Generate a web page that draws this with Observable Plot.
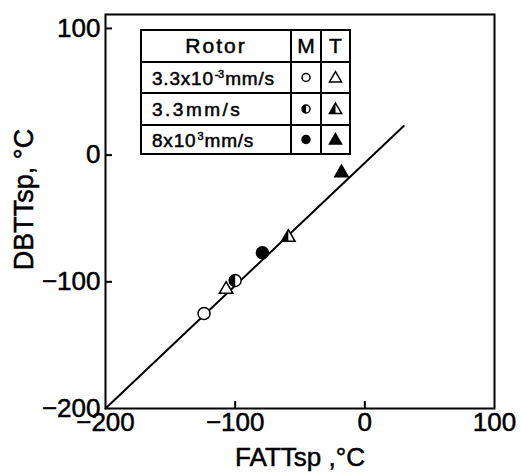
<!DOCTYPE html>
<html>
<head>
<meta charset="utf-8">
<script src="https://cdn.jsdelivr.net/npm/d3@7"></script>
<script src="https://cdn.jsdelivr.net/npm/@observablehq/plot@0.6"></script>
<style>
  html, body { margin: 0; padding: 0; background: #fff; }
  #chart { position: relative; width: 521px; height: 475px; }
  svg { font-family: "Liberation Sans", Arial, sans-serif; }
  #chart text { stroke: #000; stroke-width: 0.5px; }
</style>
</head>
<body>
<div id="chart"></div>
<script>
// ---- data ----
const rotorLabels = ["3.3x10", "3.3mm/s", "8x10"];       // legend row labels (base)
const rotorSup = ["-3", "", "3"];                          // superscripts
const rotorTail = ["mm/s", "", "mm/s"];
const symbolKind = ["open", "half", "filled"];
const fattM = [-124, -100, -79];
const dbttM = [-125, -99, -77];
const fattT = [-107, -59, -18];
const dbttT = [-106, -65, -14];
const lineX = [-200, 30];
const lineY = [-200, 23];
const xTicks = [-200, -100, 0, 100];
const yTicks = [-200, -100, 0, 100];
const xInnerTicks = [-100, 0];
const yInnerTicks = [-100, 0, 100];

// ---- custom symbols ----
const halfDisk = {
  draw(ctx, size) {
    const r = Math.sqrt(size / Math.PI);
    ctx.moveTo(0, -r);
    ctx.arc(0, 0, r, -Math.PI / 2, Math.PI / 2, true);
    ctx.closePath();
  }
};
const sqrt3 = Math.sqrt(3);
const halfTri = {
  draw(ctx, size) {
    const y = -Math.sqrt(size / (sqrt3 * 3));
    ctx.moveTo(0, y * 2);
    ctx.lineTo(0, -y);
    ctx.lineTo(sqrt3 * y, -y);
    ctx.closePath();
  }
};

const mData = fattM.map((x, i) => ({x, y: dbttM[i], kind: symbolKind[i]}));
const tData = fattT.map((x, i) => ({x, y: dbttT[i], kind: symbolKind[i]}));
const lineData = lineX.map((x, i) => ({x, y: lineY[i]}));

const W0 = 521, H0 = 475, mL = 105, mR = 27, mT = 14, mB = 67;
const frameW = W0 - mL - mR, frameH = H0 - mT - mB;

const plot = Plot.plot({
  width: W0,
  height: H0,
  marginLeft: mL,
  marginRight: mR,
  marginTop: mT,
  marginBottom: mB,
  style: {fontFamily: "Liberation Sans, Arial, sans-serif", color: "#000", background: "#fff"},
  x: {domain: [-200, 100]},
  y: {domain: [-200, 111]},
  marks: [
    Plot.frame({stroke: "#000", strokeWidth: 2}),
    Plot.axisX(xTicks, {tickSize: 0, tickPadding: 4, fontSize: 26, label: null}),
    Plot.axisY(yTicks, {tickSize: 0, tickPadding: 5, fontSize: 26, label: null}),
    Plot.ruleX(xInnerTicks, {stroke: "#000", strokeWidth: 2, insetTop: frameH - 7}),
    Plot.ruleY(yInnerTicks, {stroke: "#000", strokeWidth: 2, insetRight: frameW - 7}),
    Plot.line(lineData, {x: "x", y: "y", stroke: "#000", strokeWidth: 2}),
    // M (circles)
    Plot.dot(mData, {x: "x", y: "y", r: 6, symbol: "circle", fill: d => d.kind === "filled" ? "#000" : "#fff", stroke: "#000", strokeWidth: 1.5}),
    Plot.dot(mData.filter(d => d.kind === "half"), {x: "x", y: "y", r: 6, symbol: halfDisk, fill: "#000", stroke: "none"}),
    // T (triangles)
    Plot.dot(tData, {x: "x", y: "y", r: 5, symbol: "triangle", fill: d => d.kind === "filled" ? "#000" : "#fff", stroke: "#000", strokeWidth: 1.5}),
    Plot.dot(tData.filter(d => d.kind === "half"), {x: "x", y: "y", r: 5, symbol: halfTri, fill: "#000", stroke: "none"}),
    // axis titles
    Plot.text(["FATTsp ,°C"], {frameAnchor: "bottom", textAnchor: "middle", lineAnchor: "middle", dy: 49, fontSize: 26, fill: "#000"}),
    Plot.text(["DBTTsp, °C"], {frameAnchor: "left", textAnchor: "middle", lineAnchor: "middle", rotate: -90, dx: -81, dy: -12, fontSize: 27, fill: "#000"})
  ]
});
document.getElementById("chart").appendChild(plot);

// ---- legend table ----
const svg = d3.select(plot);
const tx = 141, ty = 30;
const colW = [150, 30, 29];
const rowH = [32, 31, 32, 29];
const g = svg.append("g").attr("transform", `translate(${tx},${ty})`).attr("text-anchor", "start");
const W = d3.sum(colW), H = d3.sum(rowH);
g.append("rect").attr("width", W).attr("height", H).attr("fill", "#fff").attr("stroke", "#000").attr("stroke-width", 2);
let cx = 0;
for (let c = 0; c < colW.length - 1; c++) {
  cx += colW[c];
  g.append("line").attr("x1", cx).attr("x2", cx).attr("y1", 0).attr("y2", H).attr("stroke", "#000").attr("stroke-width", 2);
}
let cy = 0;
const rowTops = [];
for (let r = 0; r < rowH.length; r++) {
  rowTops.push(cy);
  cy += rowH[r];
  if (r < rowH.length - 1)
    g.append("line").attr("x1", 0).attr("x2", W).attr("y1", cy).attr("y2", cy).attr("stroke", "#000").attr("stroke-width", 2);
}
const colMid = [colW[0] / 2, colW[0] + colW[1] / 2, colW[0] + colW[1] + colW[2] / 2];
// header
const hdr = [["Rotor", 0], ["M", 1], ["T", 2]];
hdr.forEach(([t, c]) => {
  g.append("text").attr("x", colMid[c]).attr("y", rowTops[0] + rowH[0] / 2 + 7)
    .attr("text-anchor", "middle").attr("font-size", 21).attr("letter-spacing", c === 0 ? 2 : 0).text(t);
});
// rows
const circleSym = d3.symbol(d3.symbolCircle, Math.PI * 16);
const triSym = d3.symbol(d3.symbolTriangle, Math.PI * 20);
rotorLabels.forEach((lab, i) => {
  const rt = rowTops[i + 1] + rowH[i + 1] / 2;
  const t = g.append("text").attr("x", 11).attr("y", rt + 7).attr("text-anchor", "start")
    .attr("font-size", 19).attr("letter-spacing", i === 1 ? 2.5 : 0.8);
  t.append("tspan").text(lab);
  if (rotorSup[i]) t.append("tspan").attr("dx", 1).attr("dy", -7).attr("font-size", 11).attr("letter-spacing", -0.5).text(rotorSup[i]);
  if (rotorTail[i]) t.append("tspan").attr("dx", rotorSup[i] ? 1.5 : 0).attr("dy", rotorSup[i] ? 7 : 0).text(rotorTail[i]);
  const kind = symbolKind[i];
  // M symbol
  const gm = g.append("g").attr("transform", `translate(${colMid[1]},${rt})`);
  gm.append("path").attr("d", circleSym()).attr("fill", kind === "filled" ? "#000" : "#fff").attr("stroke", "#000").attr("stroke-width", 1.5);
  if (kind === "half") gm.append("path").attr("d", d3.symbol(halfDisk, Math.PI * 16)()).attr("fill", "#000");
  // T symbol
  const gt = g.append("g").attr("transform", `translate(${colMid[2]},${rt + 1})`);
  gt.append("path").attr("d", triSym()).attr("fill", kind === "filled" ? "#000" : "#fff").attr("stroke", "#000").attr("stroke-width", 1.5);
  if (kind === "half") gt.append("path").attr("d", d3.symbol(halfTri, Math.PI * 20)()).attr("fill", "#000");
});
</script>
</body>
</html>
